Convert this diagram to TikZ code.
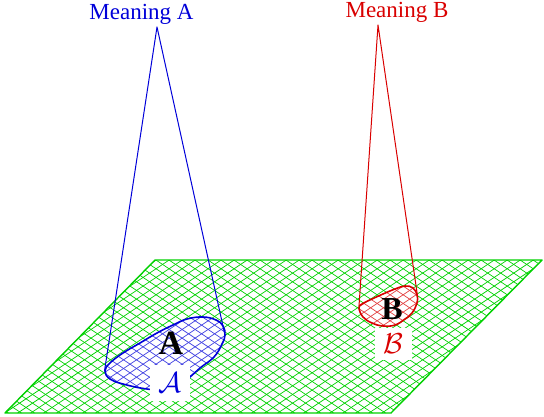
\documentclass[tikz,border=0pt]{standalone}
\usepackage{fontspec}
\setmainfont{Liberation Serif}
\usepackage{amsmath}
\usetikzlibrary{calc}
\definecolor{planegreen}{rgb}{0,0.82,0}
\definecolor{meanblue}{rgb}{0,0,0.85}
\definecolor{meanred}{rgb}{0.85,0,0}
% two families of slanted lines, slope +-2/3
\newcommand{\latticelines}{%
  \foreach \k in {-15,...,85} {
    \draw (0,8.67*\k) -- (544,8.67*\k+362.667);
    \draw (0,8.67*\k) -- (544,8.67*\k-362.667);
  }}

\begin{document}
\begin{tikzpicture}[
    x=0.5pt, y=-0.5pt,
    line join=round,
    grid/.style={line width=0.35pt},
    cone/.style={line width=0.5pt},
    rim/.style={line width=0.8pt},
    tag/.style={fill=white, inner sep=0pt, minimum width=20pt, minimum height=18pt},
    every node/.style={font=\fontsize{11.5}{13}\selectfont},
]
\useasboundingbox (0,0) rectangle (544,416);
% the plane, seen in perspective
\coordinate (pl1) at (155,260);
\coordinate (pl2) at (542,260);
\coordinate (pl3) at (391,413);
\coordinate (pl4) at (5,413);
\begin{scope}
  \clip (pl1) -- (pl2) -- (pl3) -- (pl4) -- cycle;
  \begin{scope}[planegreen, grid] \latticelines \end{scope}
\end{scope}
\draw[planegreen, line width=0.7pt] (pl1) -- (pl2) -- (pl3) -- (pl4) -- cycle;
% region A on the plane
\begin{scope}
  \clip plot[smooth cycle, tension=0.7] coordinates {(105,371) (110,379) (123,384) (147,389) (170,390) (190,377) (200,368) (214,357) (222,344) (225,335) (223,326) (216,320) (203,317) (187,319) (173,325) (157,333) (140,343) (123,353) (110,363)};
  \fill[white] (0,0) rectangle (544,416);
  \begin{scope}[meanblue!75, grid] \latticelines \end{scope}
\end{scope}
\draw[meanblue, rim] plot[smooth cycle, tension=0.7] coordinates {(105,371) (110,379) (123,384) (147,389) (170,390) (190,377) (200,368) (214,357) (222,344) (225,335) (223,326) (216,320) (203,317) (187,319) (173,325) (157,333) (140,343) (123,353) (110,363)};
% region B on the plane
\begin{scope}
  \clip plot[smooth cycle, tension=0.7] coordinates {(359,308) (363,317) (372,323) (383,326) (395,325) (405,319) (412,313) (417,303) (417,295) (413,288) (405,286) (395,289) (383,294) (372,299) (362,304)};
  \fill[white] (0,0) rectangle (544,416);
  \begin{scope}[meanred!75, grid] \latticelines \end{scope}
\end{scope}
\draw[meanred, rim] plot[smooth cycle, tension=0.7] coordinates {(359,308) (363,317) (372,323) (383,326) (395,325) (405,319) (412,313) (417,303) (417,295) (413,288) (405,286) (395,289) (383,294) (372,299) (362,304)};
% meanings and their cones
\node[meanblue, anchor=base] (meanA) at (141.5,20) {Meaning A};
\node[meanred, anchor=base] (meanB) at (397,18) {Meaning B};
\coordinate (apexA) at (157,27);
\coordinate (apexB) at (378,25);
\coordinate (tanAl) at (104.5,371);
\coordinate (tanAr) at (224.5,333);
\coordinate (tanBl) at (359,306);
\coordinate (tanBr) at (417.5,296);
\draw[meanblue, cone] (tanAl) -- (apexA) -- (tanAr);
\draw[meanred, cone] (tanBl) -- (apexB) -- (tanBr);
% labels on the plane
\node[font=\fontsize{17}{19}\selectfont] (boldA) at (171,343) {$\mathbf{A}$};
\node[font=\fontsize{16}{18}\selectfont] (boldB) at (392,309) {$\mathbf{B}$};
\node[tag, text=meanblue, font=\fontsize{15}{17}\selectfont] (calA) at (170,383) {$\mathcal{A}$};
\node[tag, text=meanred, font=\fontsize{15}{17}\selectfont, minimum width=18.5pt, minimum height=16pt] (calB) at (393,344) {$\mathcal{B}$};
\end{tikzpicture}
\end{document}
